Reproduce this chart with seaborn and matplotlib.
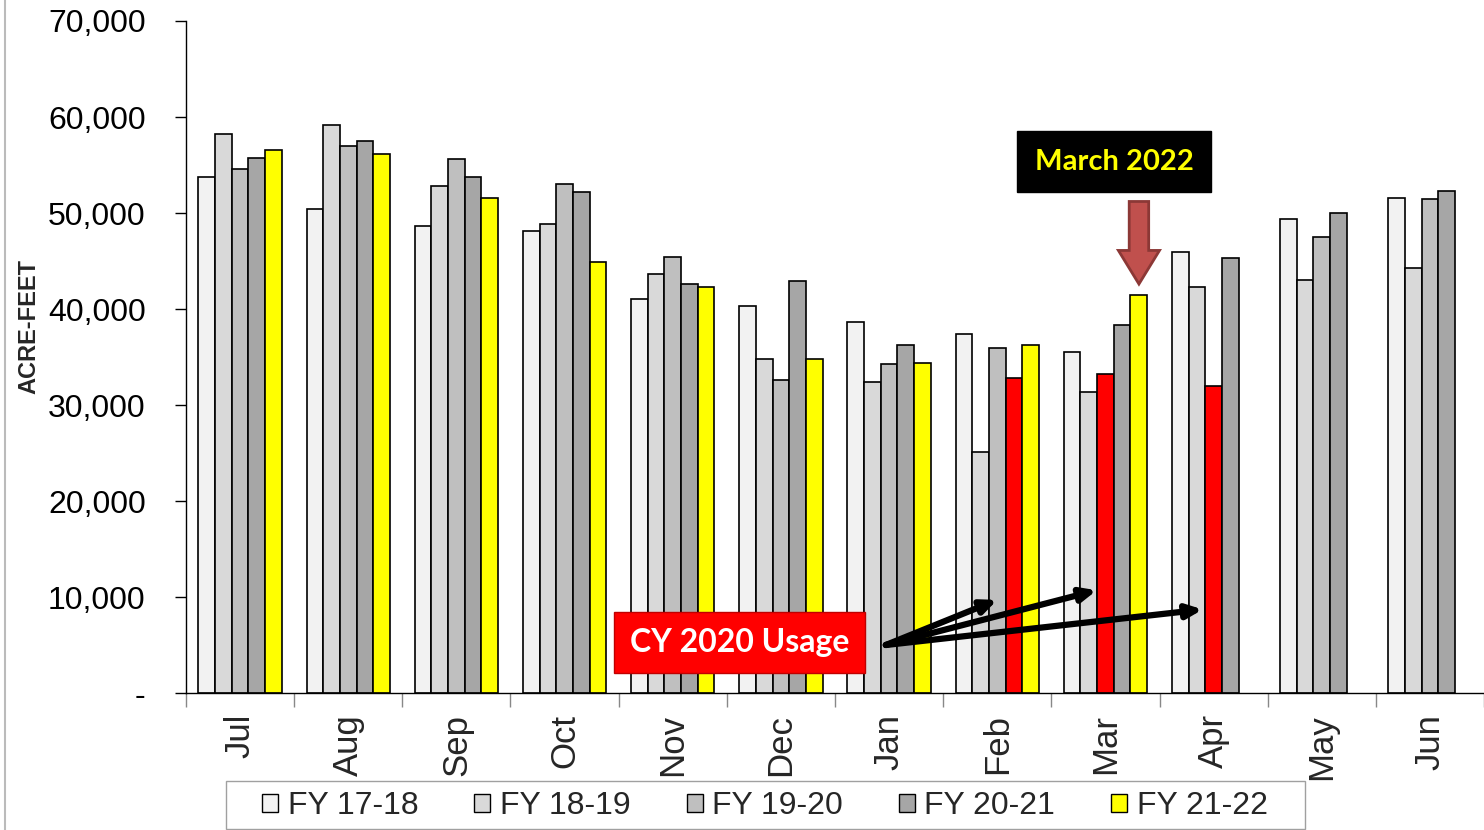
import numpy as np
import pandas as pd
import matplotlib
matplotlib.use("Agg")
import matplotlib.pyplot as plt
import seaborn as sns
from matplotlib.patches import Patch, FancyArrow, Rectangle
from matplotlib.lines import Line2D
from matplotlib.ticker import FuncFormatter

months = ["Jul", "Aug", "Sep", "Oct", "Nov", "Dec", "Jan", "Feb", "Mar", "Apr", "May", "Jun"]
years = ["FY 17-18", "FY 18-19", "FY 19-20", "FY 20-21", "FY 21-22"]

fy_17_18 = [53700, 50400, 48600, 48100, 41000, 40350, 38600, 37400, 35500, 45900, 49400, 51600]
fy_18_19 = [58200, 59200, 52800, 48900, 43600, 34750, 32400, 25100, 31350, 42300, 43000, 44250]
fy_19_20 = [54600, 56950, 55650, 53000, 45400, 32650, 34300, 35900, 33200, 32000, 47500, 51450]
fy_20_21 = [55750, 57450, 53750, 52150, 42600, 42950, 36200, 32850, 38300, 45350, 50000, 52300]
fy_21_22 = [56600, 56150, 51600, 44850, 42300, 34750, 34350, 36200, 41450, np.nan, np.nan, np.nan]

# bars highlighted as "CY 2020 Usage"
red_bars = [("Feb", "FY 20-21"), ("Mar", "FY 19-20"), ("Apr", "FY 19-20")]

colors = ["#F2F2F2", "#D9D9D9", "#BFBFBF", "#A6A6A6", "#FFFF00"]

rows = []
for fy, vals in zip(years, [fy_17_18, fy_18_19, fy_19_20, fy_20_21, fy_21_22]):
    for m, v in zip(months, vals):
        rows.append({"month": m, "fy": fy, "value": v})
df = pd.DataFrame(rows).dropna()

sns.set_style("white")
plt.rcParams["font.family"] = ["Liberation Sans", "DejaVu Sans"]

fig = plt.figure(figsize=(14.84, 8.30), dpi=100)
ax = fig.add_axes([186 / 1484, 1 - 693 / 830, 1 - 186 / 1484, (693 - 21) / 830])

sns.barplot(data=df, x="month", y="value", hue="fy", order=months, hue_order=years,
            palette=colors, width=0.77, gap=0, edgecolor="black", linewidth=1.2,
            saturation=1, errorbar=None, legend=False, ax=ax)

for i, cont in enumerate(ax.containers):
    for bar in cont:
        m = int(round(bar.get_x() + bar.get_width() / 2))
        if (months[m], years[i]) in red_bars:
            bar.set_facecolor("#FF0000")

ax.set_xlim(-0.5, 11.5)
ax.set_ylim(0, 70000)
ax.set_yticks(range(0, 70001, 10000))
ax.yaxis.set_major_formatter(FuncFormatter(lambda v, p: "-" if v == 0 else f"{int(v):,}"))
ax.tick_params(axis="y", labelsize=23, length=8, width=1, direction="out", left=True, pad=21, colors="black")
ax.set_xticks(range(12))
ax.set_xticklabels(months, rotation=90, fontsize=25)
ax.tick_params(axis="x", which="major", length=0, pad=15)
ax.set_xticks(np.arange(-0.5, 12, 1), minor=True)
ax.tick_params(axis="x", which="minor", length=10, width=1, color="#888888", bottom=True)
ax.set_xlabel("")
ax.set_ylabel("ACRE-FEET", fontsize=17, fontweight="bold")
ax.yaxis.set_label_coords(-0.112, 0.545)
for s in ["top", "right"]:
    ax.spines[s].set_visible(False)
for s in ["left", "bottom"]:
    ax.spines[s].set_color("black")
    ax.spines[s].set_linewidth(1)

# annotations
ax.text(4.62, 5300, "CY 2020 Usage", color="white", fontsize=23, fontweight="bold",
        family=["Lato", "DejaVu Sans"], ha="center", va="center",
        bbox=dict(boxstyle="square,pad=0.5", facecolor="#FF0000", edgecolor="#C00000", linewidth=1))
start = (5.97, 5000)
for tip in [(7.0, 9700), (7.92, 10700), (8.9, 8700)]:
    ax.annotate("", xy=tip, xytext=start,
                arrowprops=dict(arrowstyle="-|>,head_length=0.9,head_width=0.4", color="black", lw=4.5,
                                shrinkA=0, shrinkB=0))

ax.text(8.08, 55350, "March 2022", color="#FFFF00", fontsize=21, fontweight="bold",
        family=["Lato", "DejaVu Sans"], ha="center", va="center",
        bbox=dict(boxstyle="square,pad=0.6", facecolor="black", edgecolor="black"))
ax.add_patch(FancyArrow(8.31, 51200, 0, -8600, width=0.18, head_width=0.38, head_length=3500,
                        length_includes_head=True, facecolor="#C0504D", edgecolor="#8C3836",
                        linewidth=2, clip_on=False))

handles = [Patch(facecolor=c, edgecolor="black", linewidth=1) for c in colors]
leg = fig.legend(handles, years, loc="center", bbox_to_anchor=(765 / 1484, 1 - 806 / 830),
                 ncol=5, fontsize=23, frameon=False, handlelength=0.5,
                 handleheight=0.5, handletextpad=0.3, columnspacing=1.75, borderpad=0.2)
fig.add_artist(Rectangle((226 / 1484, 0.001), (1305 - 226) / 1484, (830 - 782) / 830,
                         transform=fig.transFigure, fill=False, edgecolor="#A0A0A0", linewidth=1))

fig.add_artist(Line2D([5 / 1484, 5 / 1484], [0, 1], transform=fig.transFigure, color="#BBBBBB", lw=1.5))

fig.savefig("out.png", dpi=100)
